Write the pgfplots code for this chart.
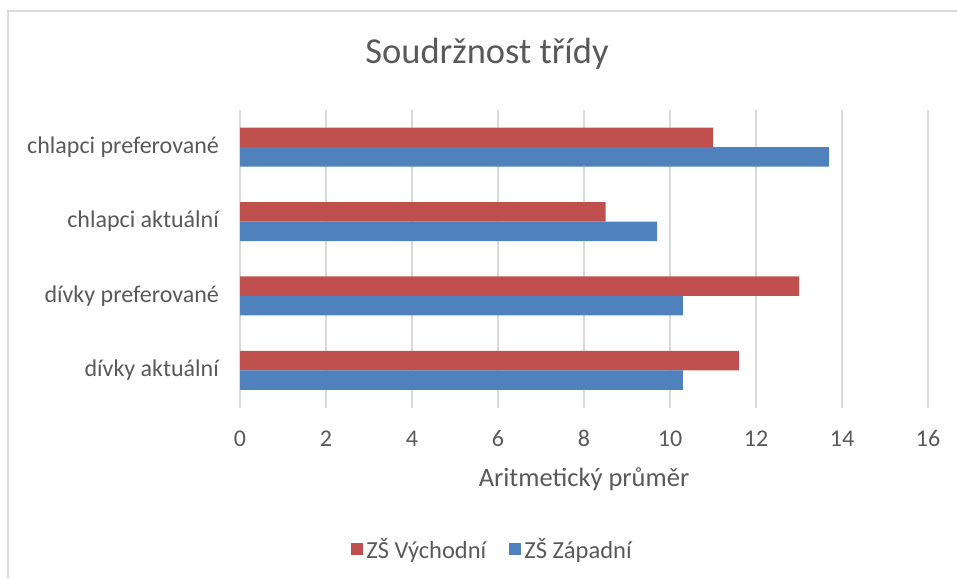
\documentclass[border=0pt]{standalone}
\usepackage{pgfplots}
\pgfplotsset{compat=1.18}
\usepackage{fontspec}
\setmainfont{Carlito}
\definecolor{cred}{HTML}{C0504D}
\definecolor{cblue}{HTML}{4F81BD}
\definecolor{cgrid}{HTML}{D9D9D9}
\definecolor{ctext}{HTML}{595959}
\begin{document}
\begin{tikzpicture}
\useasboundingbox (0,0) rectangle (957pt,578pt);
\draw[cgrid, line width=1.5pt] (8pt,0) -- (8pt,567pt) -- (957pt,567pt);
\begin{axis}[
  at={(240pt,170.5pt)}, anchor=south west,
  scale only axis, width=688pt, height=297.5pt,
  xmin=0, xmax=16, ymin=-0.5, ymax=3.5,
  xtick={0,2,...,16},
  ytick={0,1,2,3},
  yticklabels={dívky aktuální, dívky preferované, chlapci aktuální, chlapci preferované},
  axis line style={draw=none},
  major tick length=0pt,
  xmajorgrids, grid style={cgrid, line width=1.2pt},
  /pgf/number format/assume math mode=true,
  xticklabel style={font=\fontsize{24}{28}\selectfont, text=ctext, anchor=base, yshift=-39pt, inner sep=0pt},
  yticklabel style={font=\fontsize{24}{28}\selectfont, text=ctext, anchor=east, xshift=-21pt, inner sep=0pt},
  xlabel={Aritmetický průměr},
  xlabel style={at={(axis description cs:0.5,0)}, anchor=base, yshift=-78.5pt, font=\fontsize{26.5}{30}\selectfont, text=ctext, inner sep=0pt},
  title={Soudržnost třídy},
  title style={at={(axis description cs:0.5,1)}, anchor=base, yshift=40pt, xshift=-97pt, font=\fontsize{36.5}{42}\selectfont, text=ctext, inner sep=0pt},
  xbar, bar width=19.5pt,
  legend columns=2,
  legend style={at={(axis description cs:0.3677,-0.4756)}, anchor=center, draw=none, fill=none,
    font=\fontsize{24.5}{28}\selectfont, text=ctext, nodes={inner sep=3pt},
    /tikz/every even column/.append style={column sep=20pt}},
  legend image code/.code={\fill[#1] (0pt,-6pt) rectangle (12pt,6pt);},
  clip=false,
]
\addplot[fill=cred, draw=none, bar shift=9.75pt] coordinates {(11.6,0) (13.0,1) (8.5,2) (11.0,3)};
\addlegendentry{ZŠ Východní}
\addplot[fill=cblue, draw=none, bar shift=-9.75pt] coordinates {(10.3,0) (10.3,1) (9.7,2) (13.7,3)};
\addlegendentry{ZŠ Západní}
\end{axis}
\end{tikzpicture}
\end{document}
